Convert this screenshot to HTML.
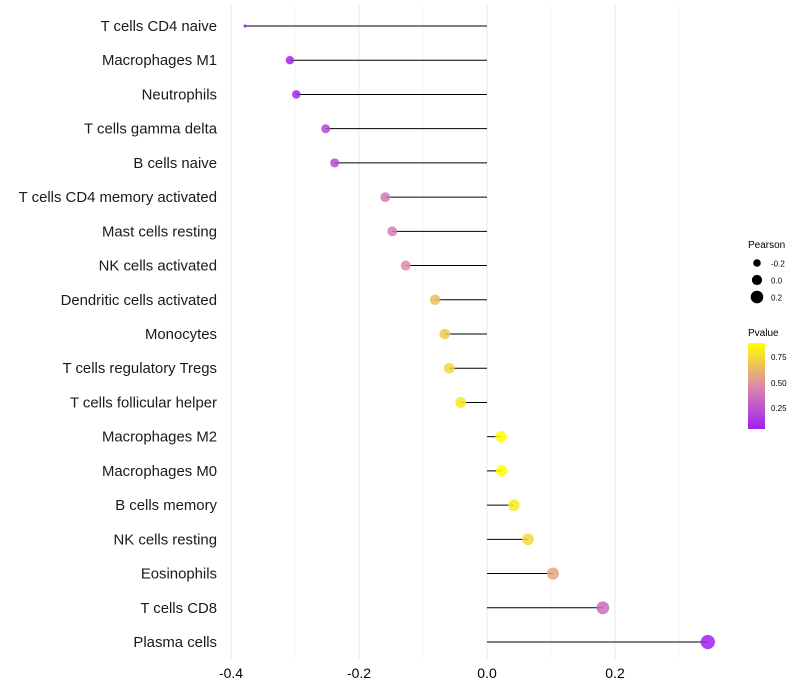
<!DOCTYPE html>
<html><head><meta charset="utf-8"><style>
body{margin:0;background:#fff;}
svg{display:block;font-family:"Liberation Sans",sans-serif;}
</style></head><body>
<svg id="chart" width="800" height="700">
<defs><linearGradient id="pg" x1="0" y1="1" x2="0" y2="0">
<stop offset="0" stop-color="#A020F0"/><stop offset="0.5" stop-color="#DC8AAA"/><stop offset="1" stop-color="#FFFF00"/>
</linearGradient></defs>
<g id="grid"></g>
<g id="marks"></g>
<g id="ylabels"></g>
<g id="xlabels"></g>
<g>
<text x="748" y="248" font-size="10">Pearson</text>
<circle cx="757" cy="263" r="3.8" fill="#000"/>
<text x="771" y="266.5" font-size="8">-0.2</text>
<circle cx="757" cy="280" r="5.1" fill="#000"/>
<text x="771" y="283.5" font-size="8">0.0</text>
<circle cx="757" cy="297" r="6.3" fill="#000"/>
<text x="771" y="300.5" font-size="8">0.2</text>
</g>
<g>
<text x="748" y="336" font-size="10">Pvalue</text>
<rect x="748" y="343" width="17" height="86" fill="url(#pg)"/>
<text x="771" y="360" font-size="8">0.75</text>
<text x="771" y="386" font-size="8">0.50</text>
<text x="771" y="411" font-size="8">0.25</text>
</g>
</svg>
<script>
const categories=["T cells CD4 naive","Macrophages M1","Neutrophils","T cells gamma delta","B cells naive","T cells CD4 memory activated","Mast cells resting","NK cells activated","Dendritic cells activated","Monocytes","T cells regulatory  Tregs ","T cells follicular helper","Macrophages M2","Macrophages M0","B cells memory","NK cells resting","Eosinophils","T cells CD8","Plasma cells"];
const pearson=[-0.378,-0.308,-0.298,-0.252,-0.238,-0.159,-0.148,-0.127,-0.081,-0.066,-0.059,-0.041,0.022,0.023,0.042,0.064,0.103,0.181,0.345];
const pvalue=[0.05,0.07,0.08,0.2,0.22,0.4,0.42,0.48,0.65,0.7,0.74,0.8,0.89,0.89,0.82,0.74,0.57,0.35,0.05];
const xticks=[-0.4,-0.2,0.0,0.2];
const xtickLabels=["-0.4","-0.2","0.0","0.2"];
const minorTicks=[-0.3,-0.1,0.1,0.3];
const NS="http://www.w3.org/2000/svg";
function X(v){return 487+v*640;}
function Y(i){return 26+i*(616/18);}
function R(v){return v<-0.35?1.6:5.6+4.5*v;}
function hex(c){return [parseInt(c.slice(1,3),16),parseInt(c.slice(3,5),16),parseInt(c.slice(5,7),16)];}
function col(p){const t=Math.min(1,Math.max(0,(p-0.054)/(0.887-0.054)));const a=hex("#A020F0"),m=hex("#DC8AAA"),b=hex("#FFFF00");let c;
if(t<0.5){const u=t/0.5;c=a.map((x,k)=>Math.round(x+(m[k]-x)*u));}else{const u=(t-0.5)/0.5;c=m.map((x,k)=>Math.round(x+(b[k]-x)*u));}
return "rgb("+c.join(",")+")";}
function mk(tag,attrs,parent){const e=document.createElementNS(NS,tag);for(const k in attrs)e.setAttribute(k,attrs[k]);parent.appendChild(e);return e;}
const grid=document.getElementById("grid"),marks=document.getElementById("marks"),yl=document.getElementById("ylabels"),xl=document.getElementById("xlabels");
minorTicks.forEach(v=>{const l=mk("line",{x1:X(v),x2:X(v),y1:5,y2:660,stroke:"#f2f2f2","stroke-width":0.6},grid);

});
xticks.forEach((v,i)=>{const l=mk("line",{x1:X(v),x2:X(v),y1:5,y2:660,stroke:"#ebebeb","stroke-width":1.1},grid);


const t=mk("text",{x:X(v),y:678,"font-size":14,"text-anchor":"middle",fill:"#000"},xl);t.textContent=xtickLabels[i];

});
categories.forEach((c,i)=>{const y=Y(i);
const t=mk("text",{x:217,y:y+5,"font-size":14.9,"text-anchor":"end",fill:"#1a1a1a"},yl);t.textContent=c;


const l=mk("line",{x1:X(pearson[i]),x2:X(0),y1:y,y2:y,stroke:"#000","stroke-width":1},marks);


const d=mk("circle",{cx:X(pearson[i]),cy:y,r:R(pearson[i]),fill:col(pvalue[i]),"fill-opacity":0.85},marks);

});
</script>
</body></html>
